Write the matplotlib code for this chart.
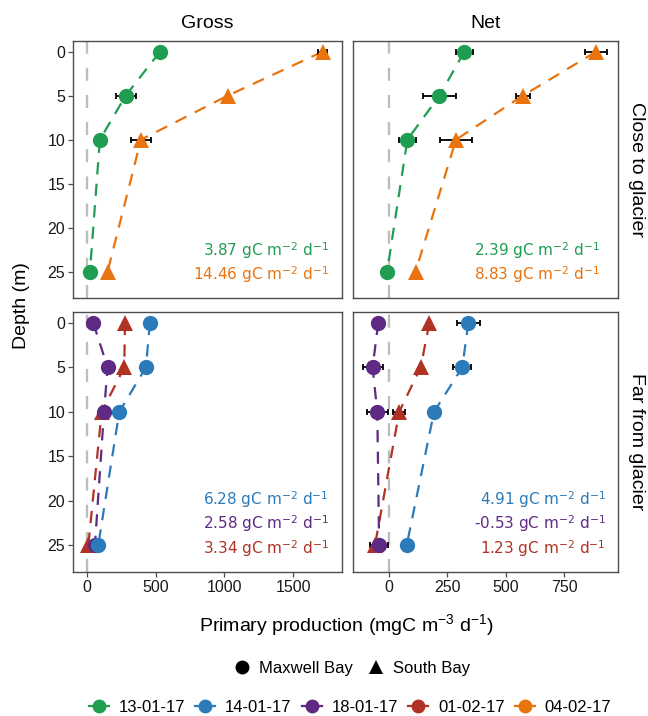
import matplotlib
matplotlib.use('Agg')
import matplotlib.pyplot as plt
from matplotlib.lines import Line2D

plt.rcParams['font.family'] = ['Liberation Sans', 'DejaVu Sans']
plt.rcParams['mathtext.fontset'] = 'custom'
plt.rcParams['mathtext.rm'] = 'Liberation Sans'
plt.rcParams['mathtext.it'] = 'Liberation Sans:italic'
plt.rcParams['mathtext.sf'] = 'DejaVu Sans'

# ---------------- data ----------------
depth = [0, 5, 10, 25]
dates = ['13-01-17', '14-01-17', '18-01-17', '01-02-17', '04-02-17']
date_colors = ['#1f9e52', '#2b7bba', '#5e2a84', '#b03224', '#e8730f']
columns = ['Gross', 'Net']
rows = ['Close to glacier', 'Far from glacier']
sites = ['Maxwell Bay', 'South Bay']

# Close to glacier
gross_close_1301 = [532, 283, 96, 24]
gross_close_1301_err = [0, 73, 0, 0]
gross_close_0402 = [1712, 1023, 394, 152]
gross_close_0402_err = [30, 0, 72, 0]
net_close_1301 = [323, 216, 79, -8]
net_close_1301_err = [36, 71, 36, 0]
net_close_0402 = [887, 573, 287, 114]
net_close_0402_err = [46, 29, 70, 0]

# Far from glacier
gross_far_0102 = [278, 273, 109, 12]
gross_far_0102_err = [0, 0, 0, 0]
gross_far_1801 = [48, 152, 126, 60]
gross_far_1801_err = [0, 0, 0, 0]
gross_far_1401 = [459, 430, 237, 84]
gross_far_1401_err = [0, 0, 0, 0]
net_far_0102 = [173, 136, 44, -60]
net_far_0102_err = [0, 0, 25, 0]
net_far_1801 = [-46, -70, -50, -42]
net_far_1801_err = [0, 43, 46, 40]
net_far_1401 = [340, 314, 193, 76]
net_far_1401_err = [49, 38, 0, 0]

# integrated values (text annotations)
close_gross_labels = ['3.87', '14.46']
close_net_labels = ['2.39', '8.83']
far_gross_labels = ['6.28', '2.58', '3.34']
far_net_labels = ['4.91', '-0.53', '1.23']

# ---------------- figure ----------------
W, H = 648, 716
fig = plt.figure(figsize=(W / 100, H / 100), dpi=100)

def fx(px):
    return px / W

def fy(py):
    return 1 - py / H

def add_ax(x0, y0, x1, y1):
    return fig.add_axes([fx(x0), fy(y1), fx(x1) - fx(x0), (y1 - y0) / H])

ax_tl = add_ax(73, 41, 342, 298)
ax_tr = add_ax(353, 41, 618, 298)
ax_bl = add_ax(73, 312, 342, 572)
ax_br = add_ax(353, 312, 618, 572)

xlims = {0: (-99, 1853), 1: (-154, 981)}
xticks = {0: [0, 500, 1000, 1500], 1: [0, 250, 500, 750]}

col_of = {ax_tl: 0, ax_bl: 0, ax_tr: 1, ax_br: 1}

def series(ax, x, err, date_idx, marker, ms=11):
    c = date_colors[date_idx]
    ax.plot(x, depth, color=c, lw=1.6, dashes=(5.5, 4.2), zorder=2,
            solid_capstyle='butt', dash_capstyle='butt')
    if any(e > 0 for e in err):
        xs = [xi for xi, e in zip(x, err) if e > 0]
        ds = [d for d, e in zip(depth, err) if e > 0]
        es = [e for e in err if e > 0]
        ax.errorbar(xs, ds, xerr=es, fmt='none', ecolor='black',
                    elinewidth=1.3, capsize=2.3, capthick=1.3, zorder=3)
    ax.plot(x, depth, ls='none', marker=marker, ms=ms, color=c,
            markeredgewidth=0, zorder=4)

for ax in [ax_tl, ax_tr, ax_bl, ax_br]:
    ax.axvline(0, color='#bdbdbd', lw=1.7, dashes=(5.5, 6), zorder=1)

series(ax_tl, gross_close_1301, gross_close_1301_err, 0, 'o')
series(ax_tl, gross_close_0402, gross_close_0402_err, 4, '^')
series(ax_tr, net_close_1301, net_close_1301_err, 0, 'o')
series(ax_tr, net_close_0402, net_close_0402_err, 4, '^')

series(ax_bl, gross_far_0102, gross_far_0102_err, 3, '^')
series(ax_bl, gross_far_1801, gross_far_1801_err, 2, 'o')
series(ax_bl, gross_far_1401, gross_far_1401_err, 1, 'o')
series(ax_br, net_far_0102, net_far_0102_err, 3, '^')
series(ax_br, net_far_1801, net_far_1801_err, 2, 'o')
series(ax_br, net_far_1401, net_far_1401_err, 1, 'o')

for ax in [ax_tl, ax_tr, ax_bl, ax_br]:
    c = col_of[ax]
    ax.set_xlim(*xlims[c])
    ax.set_xticks(xticks[c])
    ax.set_ylim(28.0, -1.22)
    ax.set_yticks([0, 5, 10, 15, 20, 25])
    for s in ax.spines.values():
        s.set_color('#4d4d4d')
        s.set_linewidth(1.0)
    ax.tick_params(length=3.5, width=0.9, color='#4d4d4d', labelsize=11.5,
                   labelcolor='#1a1a1a', pad=2)
    ax.set_facecolor('white')

for ax in [ax_tl, ax_tr]:
    ax.tick_params(labelbottom=False, bottom=False)
for ax in [ax_tr, ax_br]:
    ax.tick_params(labelleft=False, left=False)

# strip labels
fig.text(fx(207.5), fy(23), columns[0], ha='center', va='center', fontsize=14)
fig.text(fx(485.5), fy(23), columns[1], ha='center', va='center', fontsize=14)
fig.text(fx(636), fy(169.5), rows[0], ha='center', va='center', fontsize=14, rotation=270)
fig.text(fx(636), fy(442), rows[1], ha='center', va='center', fontsize=14, rotation=270)

# axis titles
fig.text(fx(22), fy(306), 'Depth (m)', ha='center', va='center', fontsize=14, rotation=90)
fig.text(fx(346), fy(625), 'Primary production (mgC m$^{-3}$ d$^{-1}$)',
         ha='center', va='center', fontsize=14)

# annotations
def unit_label(v):
    return v + r' gC m$^{\mathsf{-2}}$ d$^{\mathsf{-1}}$'

ann_kw = dict(ha='right', va='baseline', fontsize=11, family='DejaVu Sans')
fig.text(fx(329), fy(256), unit_label(close_gross_labels[0]), color=date_colors[0], **ann_kw)
fig.text(fx(329), fy(280.5), unit_label(close_gross_labels[1]), color=date_colors[4], **ann_kw)
fig.text(fx(600), fy(256), unit_label(close_net_labels[0]), color=date_colors[0], **ann_kw)
fig.text(fx(600), fy(280.5), unit_label(close_net_labels[1]), color=date_colors[4], **ann_kw)

far_cols = [date_colors[1], date_colors[2], date_colors[3]]
far_y = [505, 529.5, 554]
for lab, c, y in zip(far_gross_labels, far_cols, far_y):
    fig.text(fx(329), fy(y), unit_label(lab), color=c, **ann_kw)
for lab, c, y in zip(far_net_labels, far_cols, far_y):
    fig.text(fx(606), fy(y), unit_label(lab), color=c, **ann_kw)

# legends
shape_handles = [Line2D([], [], ls='none', marker='o', ms=10, color='black', markeredgewidth=0),
                 Line2D([], [], ls='none', marker='^', ms=10, color='black', markeredgewidth=0)]
fig.legend(shape_handles, sites, loc='center', bbox_to_anchor=(fx(352), fy(668)),
           ncol=2, frameon=False, fontsize=12, handlelength=1.0, handletextpad=0.5,
           columnspacing=0.9, borderpad=0, borderaxespad=0)

color_handles = [Line2D([], [], color=c, lw=1.6, marker='o', ms=10, markeredgewidth=0)
                 for c in date_colors]
fig.legend(color_handles, dates, loc='center', bbox_to_anchor=(fx(350), fy(707)),
           ncol=5, frameon=False, fontsize=12, handlelength=1.2, handletextpad=0.6,
           columnspacing=0.6, borderpad=0, borderaxespad=0)

fig.savefig('out.png', dpi=100, facecolor='white')
